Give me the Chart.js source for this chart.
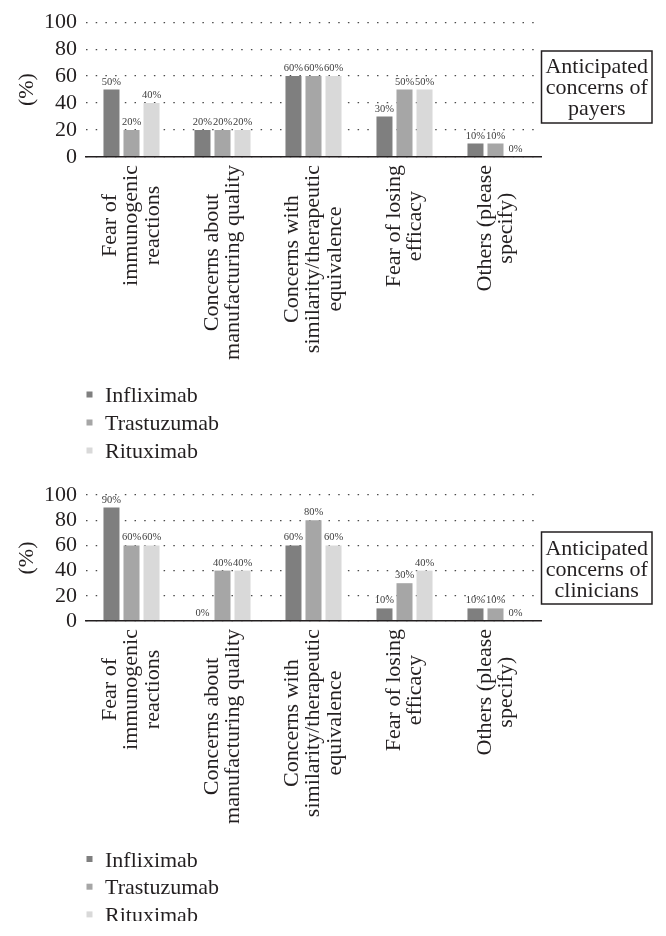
<!DOCTYPE html>
<html><head><meta charset="utf-8">
<script src="https://cdn.jsdelivr.net/npm/chart.js@4/dist/chart.umd.min.js"></script>
<style>
html,body{margin:0;padding:0;background:#fff;width:666px;height:936px;overflow:hidden}
canvas{position:absolute;left:0}
#c1{top:0}
#c2{top:470px}
</style></head><body>
<canvas id="c1" width="666" height="470"></canvas>
<canvas id="c2" width="666" height="451"></canvas>
<script>
const categories = [["Fear of","immunogenic","reactions"],["Concerns about","manufacturing quality"],["Concerns with","similarity/therapeutic","equivalence"],["Fear of losing","efficacy"],["Others (please","specify)"]];
const seriesNames = ["Infliximab","Trastuzumab","Rituximab"];
const payersInfliximab = [50,20,60,30,10];
const payersTrastuzumab = [20,20,60,50,10];
const payersRituximab = [40,20,60,50,0];
const cliniciansInfliximab = [90,0,60,10,10];
const cliniciansTrastuzumab = [60,40,80,30,10];
const cliniciansRituximab = [60,40,60,40,0];
const yTicks = [0,20,40,60,80,100];
const yTitle = "(%)";
const payersTitle = ["Anticipated","concerns of","payers"];
const cliniciansTitle = ["Anticipated","concerns of","clinicians"];

const FONT = '"Liberation Serif", "Times New Roman", serif';
const INK = '#231f20';
const COLORS = ['#7f7f7f','#a6a6a6','#d9d9d9'];
Chart.defaults.font.family = FONT;
Chart.defaults.color = INK;

const decor = {
  id: 'decor',
  afterDatasetsDraw(chart, args, o) {
    const ctx = chart.ctx;
    ctx.save();
    ctx.font = '10.5px ' + FONT;
    ctx.fillStyle = '#3c3c3c';
    ctx.textAlign = 'center';
    ctx.textBaseline = 'alphabetic';
    chart.data.datasets.forEach((ds, di) => {
      const meta = chart.getDatasetMeta(di);
      meta.data.forEach((bar, i) => {
        ctx.fillText(ds.data[i] + '%', bar.x, bar.y - 5);
      });
    });
    ctx.restore();
  },
  afterDraw(chart, args, o) {
    const ctx = chart.ctx;
    const xs = chart.scales.x;
    const area = chart.chartArea;
    ctx.save();
    // category labels (rotated, lines centred)
    ctx.font = '22px ' + FONT;
    ctx.fillStyle = INK;
    chart.data.labels.forEach((lines, i) => {
      const px = xs.getPixelForTick(i);
      const w = Math.max(...lines.map(l => ctx.measureText(l).width));
      ctx.save();
      ctx.translate(px, area.bottom + o.labelGap);
      ctx.rotate(-Math.PI / 2);
      ctx.textAlign = 'center';
      ctx.textBaseline = 'middle';
      lines.forEach((l, j) => ctx.fillText(l, -w / 2, (j - (lines.length - 1) / 2) * o.labelLineHeight));
      ctx.restore();
    });
    // legend
    ctx.font = '22px ' + FONT;
    ctx.textAlign = 'left';
    ctx.textBaseline = 'alphabetic';
    chart.data.datasets.forEach((ds, k) => {
      const by = o.legendBaseline + k * o.legendStep;
      ctx.fillStyle = ds.backgroundColor;
      ctx.fillRect(o.legendBoxX, by - 10.5, 6, 6);
      ctx.fillStyle = INK;
      ctx.fillText(ds.label, o.legendTextX, by);
    });
    // annotation box
    ctx.strokeStyle = INK;
    ctx.lineWidth = 1.5;
    ctx.strokeRect(o.boxLeft, o.boxTop, o.boxRight - o.boxLeft, o.boxBottom - o.boxTop);
    ctx.textAlign = 'center';
    ctx.fillStyle = INK;
    o.boxText.forEach((t, j) => ctx.fillText(t, (o.boxLeft + o.boxRight) / 2, o.boxFirstBaseline + j * o.boxStep));
    ctx.restore();
  }
};

function makeChart(id, series, title, lay) {
  return new Chart(document.getElementById(id), {
    type: 'bar',
    data: {
      labels: categories,
      datasets: seriesNames.map((n, k) => ({
        label: n, data: series[k], backgroundColor: COLORS[k],
        categoryPercentage: 0.66, barPercentage: 0.8, borderWidth: 0
      }))
    },
    options: {
      responsive: false, animation: false, devicePixelRatio: 1,
      layout: {padding: {top: lay.top, right: 125, bottom: lay.bottom, left: 0}},
      plugins: {
        legend: {display: false}, tooltip: {enabled: false},
        decor: Object.assign({labelGap: 8, labelLineHeight: 21.5, legendBoxX: 86.5, legendTextX: 105,
          boxLeft: 541.5, boxRight: 652, boxText: title, boxStep: 21}, lay.decor)
      },
      scales: {
        x: {
          grid: {display: false},
          border: {display: true, color: INK, width: 1.5, z: 1},
          ticks: {display: false},
          afterFit(s) { s.height = 0; }
        },
        y: {
          min: 0, max: 100,
          afterBuildTicks(s) { s.ticks = yTicks.map(v => ({value: v})); },
          ticks: {font: {size: 22}, color: INK, padding: 9, autoSkip: false},
          grid: {color: '#4a4a4a', lineWidth: 1.3, drawTicks: false},
          border: {display: false, dash: [1.5, 8.2]},
          title: {display: true, text: yTitle, font: {size: 22}, color: INK, padding: {top: 14, bottom: 0}},
          afterFit(s) { s.width = 86; }
        }
      }
    },
    plugins: [decor]
  });
}

makeChart('c1', [payersInfliximab, payersTrastuzumab, payersRituximab], payersTitle,
  {top: 22, bottom: 470 - 157,
   decor: {legendBaseline: 402, legendStep: 28, boxTop: 51, boxBottom: 123, boxFirstBaseline: 72.5}});
makeChart('c2', [cliniciansInfliximab, cliniciansTrastuzumab, cliniciansRituximab], cliniciansTitle,
  {top: 25, bottom: 451 - 151,
   decor: {legendBaseline: 396.5, legendStep: 27.7, boxTop: 62, boxBottom: 134, boxFirstBaseline: 85}});
</script>
</body></html>
